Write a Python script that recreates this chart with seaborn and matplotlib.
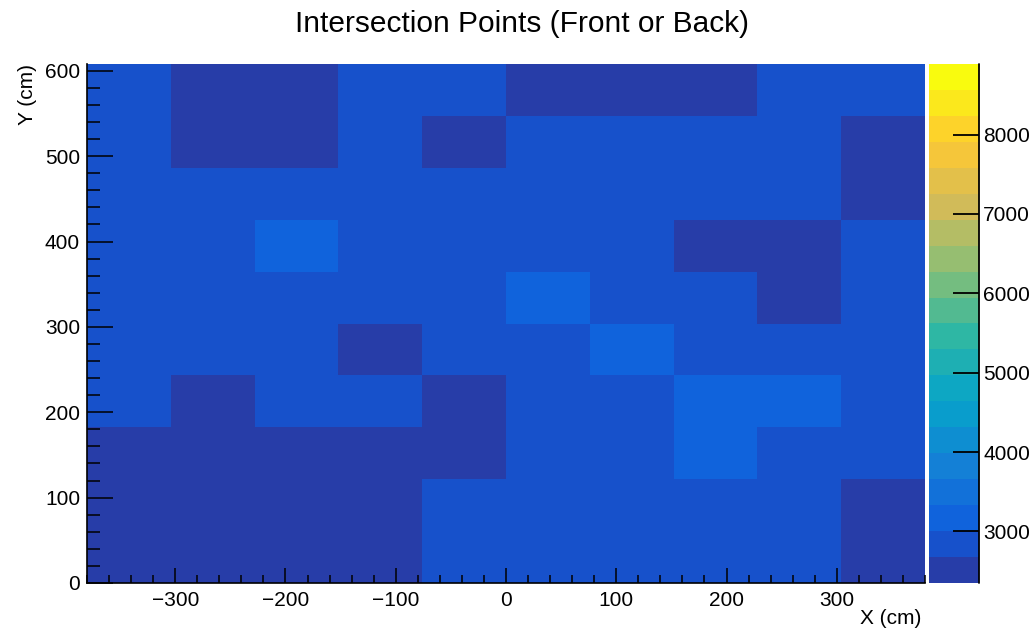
import numpy as np
import pandas as pd
import matplotlib
matplotlib.use("Agg")
import matplotlib.pyplot as plt
from matplotlib.colors import LinearSegmentedColormap, ListedColormap
from matplotlib.ticker import MultipleLocator, FixedLocator
import seaborn as sns

# ---------------- data ----------------
title = "Intersection Points (Front or Back)"
x_label = "X (cm)"
y_label = "Y (cm)"
x_range = (-380, 380)
y_range = (0, 608)
n_bins = 10
z_range = (2350, 8889)
n_contours = 20
cbar_ticks = [3000, 4000, 5000, 6000, 7000, 8000]

# bin contents, rows listed from top (high Y) to bottom (low Y)
counts = [
    [2860, 2540, 2610, 2790, 2880, 2590, 2630, 2560, 2810, 2900],
    [2740, 2480, 2570, 2830, 2620, 2770, 2850, 2920, 2760, 2530],
    [2890, 2810, 2750, 2860, 2930, 2800, 2720, 2870, 2950, 2600],
    [2820, 2900, 3080, 2780, 2840, 2910, 2760, 2650, 2580, 2880],
    [2770, 2850, 2930, 2810, 2720, 3120, 2890, 2800, 2640, 2940],
    [2910, 2760, 2830, 2620, 2880, 2950, 3060, 2790, 2860, 2750],
    [2840, 2590, 2900, 2960, 2550, 2780, 2870, 3100, 3040, 2820],
    [2500, 2420, 2610, 2560, 2630, 2810, 2760, 3070, 2900, 2850],
    [2470, 2380, 2520, 2440, 2830, 2730, 2890, 2820, 2780, 2580],
    [2352, 2410, 2490, 2430, 2790, 2800, 2760, 2910, 2850, 2470],
]

# ---------------- build table ----------------
x_edges = np.linspace(*x_range, n_bins + 1)
y_edges = np.linspace(*y_range, n_bins + 1)
x_centers = 0.5 * (x_edges[:-1] + x_edges[1:])
y_centers = 0.5 * (y_edges[:-1] + y_edges[1:])
rows = []
for r, row in enumerate(counts[::-1]):
    for c, v in enumerate(row):
        rows.append({"x": x_centers[c], "y": y_centers[r], "w": v})
df = pd.DataFrame(rows)

# ROOT kBird palette, discretised like COLZ with 20 contours
stops = [0.0, 0.125, 0.25, 0.375, 0.5, 0.625, 0.75, 0.875, 1.0]
red = [0.2082, 0.0592, 0.0780, 0.0232, 0.1802, 0.5301, 0.8186, 0.9956, 0.9764]
green = [0.1664, 0.3599, 0.5041, 0.6419, 0.7178, 0.7492, 0.7328, 0.7862, 0.9832]
blue = [0.5293, 0.8684, 0.8385, 0.7914, 0.6425, 0.4662, 0.3499, 0.1968, 0.0539]
bird = LinearSegmentedColormap.from_list(
    "bird", list(zip(stops, zip(red, green, blue))), N=255)
band_colors = [bird(int((i + 0.99) * 255 / n_contours) / 254.0) for i in range(n_contours)]
cmap = ListedColormap(band_colors)

# ---------------- plot ----------------
sns.set_theme(style="white")
plt.rcParams["font.family"] = ["Liberation Sans", "DejaVu Sans"]
plt.rcParams["axes.unicode_minus"] = True
plt.rcParams["axes.axisbelow"] = False

W, H = 1033, 634
fig = plt.figure(figsize=(W / 100, H / 100), dpi=100)
ax = fig.add_axes([87 / W, 1 - 583 / H, (925 - 87) / W, (583 - 64) / H])
cax = fig.add_axes([929 / W, 1 - 583 / H, (979 - 929) / W, (583 - 64) / H])

sns.histplot(data=df, x="x", y="y", weights="w", bins=n_bins,
             binrange=(x_range, y_range), cmap=cmap,
             vmin=z_range[0], vmax=z_range[1],
             cbar=True, cbar_ax=cax, ax=ax)

ax.set_axisbelow(False)
cax.set_axisbelow(False)
ax.set_xlim(*x_range)
ax.set_ylim(*y_range)

for s in ["top", "right"]:
    ax.spines[s].set_visible(False)
for s in ["left", "bottom"]:
    ax.spines[s].set_visible(True)
    ax.spines[s].set_color("black")
    ax.spines[s].set_linewidth(1.2)
    ax.spines[s].set_zorder(5)

ax.xaxis.set_major_locator(MultipleLocator(100))
ax.xaxis.set_minor_locator(MultipleLocator(20))
ax.yaxis.set_major_locator(MultipleLocator(100))
ax.yaxis.set_minor_locator(MultipleLocator(20))
ax.tick_params(axis="x", which="major", direction="in", length=11, width=1.1,
               color="black", labelsize=15, pad=6, bottom=True)
ax.tick_params(axis="x", which="minor", direction="in", length=5.5, width=1.1,
               color="black", bottom=True)
ax.tick_params(axis="y", which="major", direction="in", length=19, width=1.1,
               color="black", labelsize=15, pad=5, left=True)
ax.tick_params(axis="y", which="minor", direction="in", length=9.5, width=1.1,
               color="black", left=True)
for lab in ax.get_xticklabels() + ax.get_yticklabels():
    lab.set_color("black")

ax.set_xlabel(x_label, fontsize=15, color="black", loc="right")
ax.xaxis.set_label_coords(0.996, -0.05)
ax.set_ylabel(y_label, fontsize=15, color="black", loc="top")
ax.yaxis.set_label_coords(-0.0597, 1.0)

fig.text(0.5055, 1 - 32 / H, title, fontsize=21.5, ha="center", va="baseline",
         color="black")

# colour bar styling (ROOT palette axis)
cax.yaxis.set_major_locator(FixedLocator(cbar_ticks))
cax.yaxis.set_minor_locator(FixedLocator([]))
cax.tick_params(axis="y", which="major", direction="in", length=19, width=1.3,
                color="black", labelsize=15, pad=3, right=True, left=False,
                labelright=True, labelleft=False)
for lab in cax.get_yticklabels():
    lab.set_color("black")
for sp in cax.spines.values():
    sp.set_visible(False)
for child in cax.get_children():
    if child.__class__.__name__ == "_ColorbarSpine":
        child.set_visible(False)
cax.plot([1, 1], [0, 1], transform=cax.transAxes, color="black", lw=1.3,
         clip_on=False)

fig.savefig("out.png", dpi=100, facecolor="white")
